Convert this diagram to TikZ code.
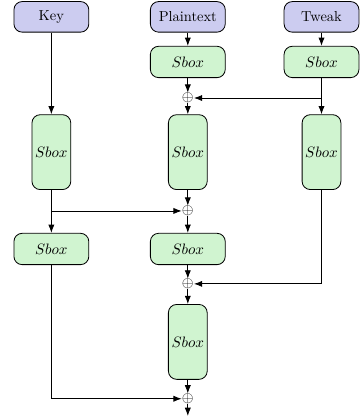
\documentclass[tikz,border=0pt]{standalone}
\usepackage{tikz}
\usetikzlibrary{arrows.meta,positioning}
\usepackage{xcolor}
\definecolor{inblue}{RGB}{204,204,240}
\definecolor{sboxgreen}{RGB}{208,244,208}

\begin{document}
\begin{tikzpicture}[
  every node/.style={font=\fontsize{10.5}{12.6}\selectfont},
  inbox/.style={draw,semithick,rounded corners=6pt,fill=inblue,minimum width=1.91cm,minimum height=0.78cm},
  sbox/.style={draw,semithick,rounded corners=6pt,fill=sboxgreen,minimum width=1.91cm,minimum height=0.8cm},
  tallbox/.style={draw,semithick,rounded corners=6pt,fill=sboxgreen,inner xsep=1.5pt,minimum width=0.99cm,minimum height=1.91cm},
  xor/.style={inner sep=0pt},
  edge/.style={-{Latex[length=6pt,width=4.5pt]},semithick}
]
\useasboundingbox (0,0) rectangle (9.16,-10.61);
% Inputs (top row)
\node[inbox] (key) at (1.31,-0.43) {Key};
\node[inbox] (pt) at (4.79,-0.43) {Plaintext};
\node[inbox] (tw) at (8.2,-0.43) {Tweak};
% First sboxes
\node[sbox] (sbp0) at (4.79,-1.58) {$Sbox$};
\node[sbox] (sbt0) at (8.2,-1.58) {$Sbox$};
\node[xor] (x1) at (4.79,-2.5) {$\oplus$};
% Tall sboxes
\node[tallbox] (sbk1) at (1.31,-3.88) {$Sbox$};
\node[tallbox] (sbp1) at (4.79,-3.88) {$Sbox$};
\node[tallbox] (sbt1) at (8.2,-3.88) {$Sbox$};
\node[xor] (x2) at (4.79,-5.38) {$\oplus$};
% Second row of sboxes
\node[sbox] (sbk2) at (1.31,-6.35) {$Sbox$};
\node[sbox] (sbp2) at (4.79,-6.35) {$Sbox$};
\node[xor] (x3) at (4.79,-7.24) {$\oplus$};
\node[tallbox] (sbp3) at (4.79,-8.72) {$Sbox$};
\node[xor] (x4) at (4.79,-10.17) {$\oplus$};
\coordinate (out) at (4.79,-10.61);
% Junctions
\coordinate (j1) at (sbt0.south |- x1);
\coordinate (j2) at (sbk1.south |- x2);
% Plaintext path
\draw[edge] (pt) -- (sbp0);
\draw[edge] (sbp0) -- (x1);
\draw[edge] (x1) -- (sbp1);
\draw[edge] (sbp1) -- (x2);
\draw[edge] (x2) -- (sbp2);
\draw[edge] (sbp2) -- (x3);
\draw[edge] (x3) -- (sbp3);
\draw[edge] (sbp3) -- (x4);
\draw[edge] (x4) -- (out);
% Tweak path
\draw[edge] (tw) -- (sbt0);
\draw[edge] (sbt0) -- (sbt1);
\draw[edge] (j1) -- (x1);
\draw[edge] (sbt1) |- (x3);
% Key path
\draw[edge] (key) -- (sbk1);
\draw[edge] (sbk1) -- (sbk2);
\draw[edge] (j2) -- (x2);
\draw[edge] (sbk2) |- (x4);
\end{tikzpicture}
\end{document}
